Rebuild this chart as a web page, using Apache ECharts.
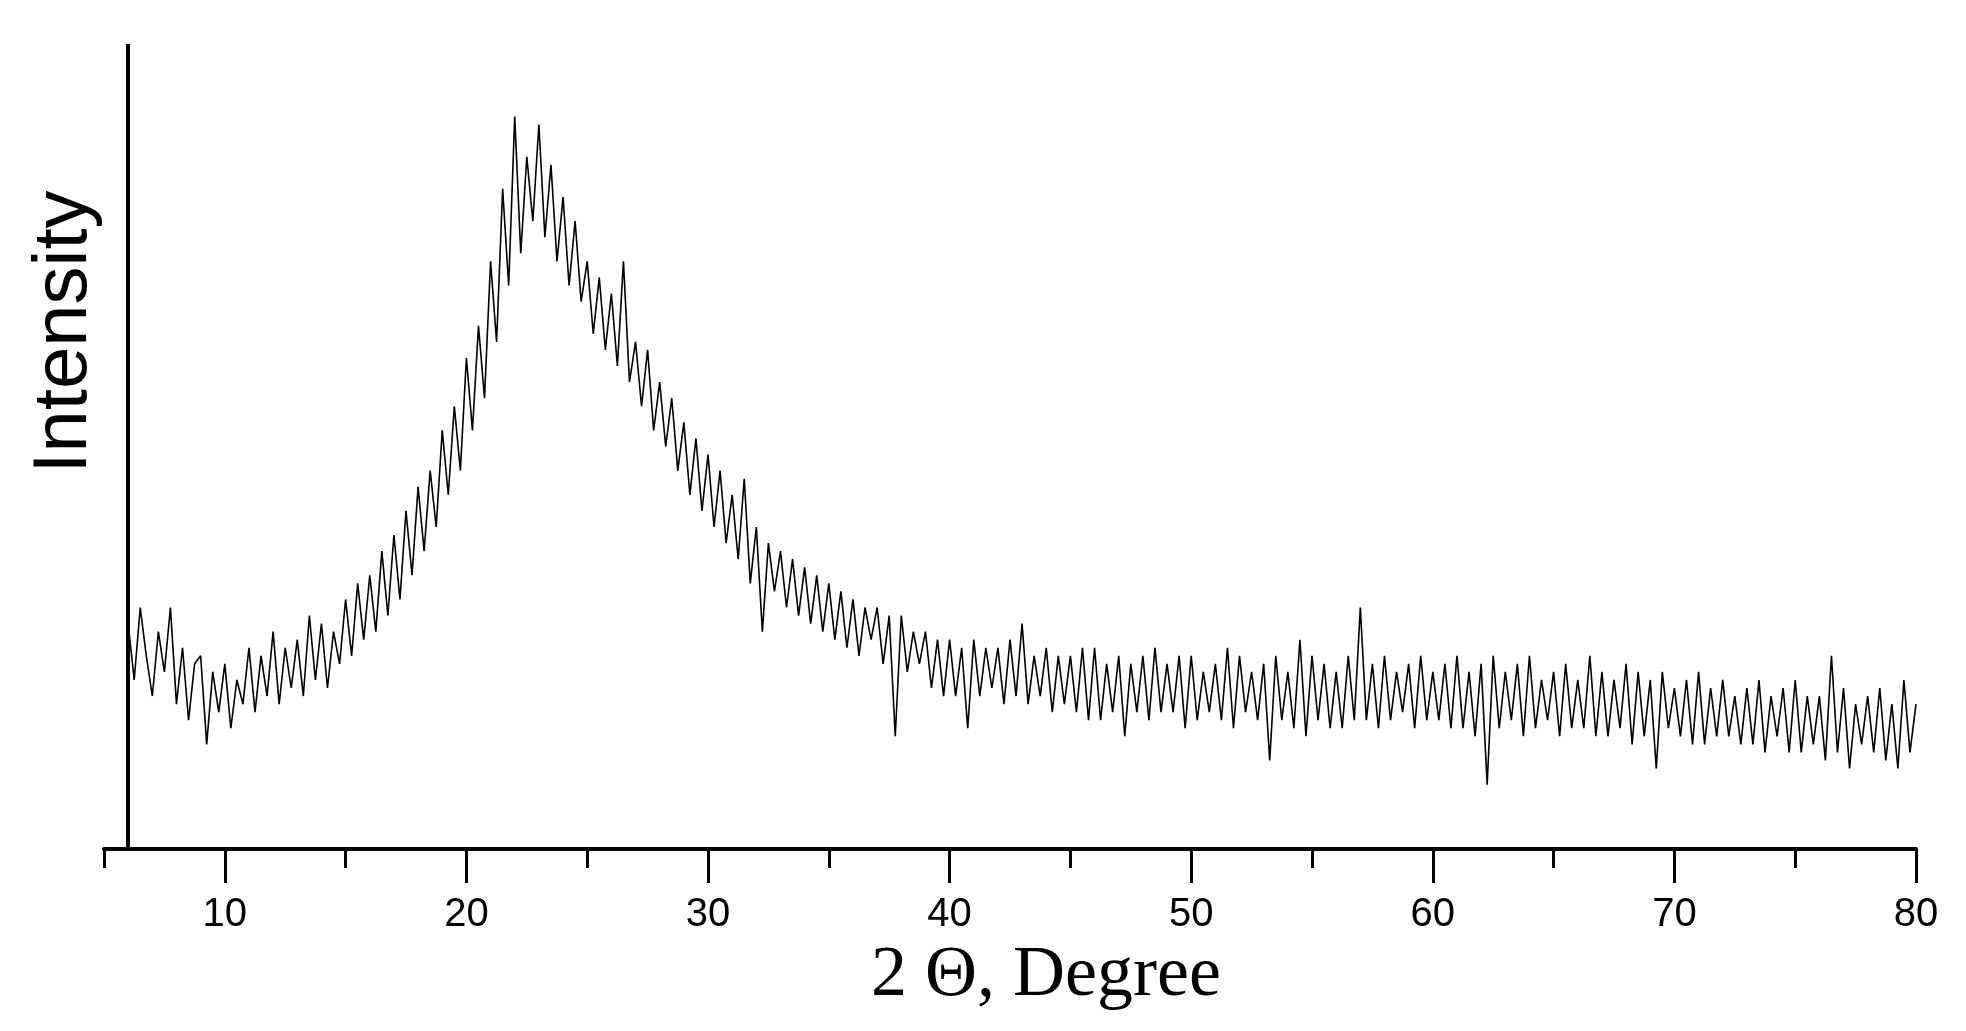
<!doctype html>
<html>
<head>
<script src="https://cdn.jsdelivr.net/npm/echarts@6/dist/echarts.min.js"></script>
<style>
  html, body { margin: 0; padding: 0; background: #fff; }
  #chart { width: 1966px; height: 1031px; }
</style>
</head>
<body>
<div id="chart"></div>
<script>
  // 2θ starts at 6 degrees, one reading every 0.25 degree
  var thetaStart = 6;
  var thetaStep = 0.25;
  var intensity = [
    28,21,30,24, 19,27,22,30, 18,25,16,23, 24,13,22,17, 23,15,21,18,
    25,17,24,19, 27,18,25,20, 26,19,29,21, 28,20,27,23, 31,24,33,26,
    34,27,37,29, 39,31,42,34, 45,37,47,40, 52,44,55,47, 61,52,65,56,
    73,63,82,70, 91,74,86,78, 90,76,85,73, 81,70,78,68, 73,64,71,62,
    69,60,73,58, 63,55,62,52, 58,50,56,47, 53,44,51,42, 49,40,47,38,
    44,36,46,33, 40,27,38,32, 37,30,36,29, 35,28,34,27, 33,26,32,25,
    31,24,30,26, 30,23,29,14, 29,22,27,23, 27,20,26,19, 26,19,25,15,
    26,19,25,20, 25,18,26,19, 28,18,24,19, 25,17,24,18, 24,17,25,16,
    25,16,23,17, 24,14,23,17, 24,16,25,17, 23,17,24,15, 24,16,22,17,
    23,16,25,15, 24,17,22,16, 23,11,24,16, 22,15,26,14, 24,16,23,15,
    22,15,24,16, 30,16,23,15, 24,16,22,17, 23,15,24,16, 22,16,23,15,
    24,15,22,14, 23,8,24,15, 22,16,23,14, 24,15,21,16, 22,14,23,15,
    21,15,24,14, 22,14,21,15, 23,13,22,14, 21,10,22,15, 20,14,21,13,
    22,13,20,14, 21,14,19,13, 20,13,21,12, 19,14,20,12, 21,12,19,13,
    19,11,24,12, 20,10,18,13, 19,12,20,11, 18,10,21,12, 18
  ];

  var points = intensity.map(function (v, i) {
    return [thetaStart + i * thetaStep, v];
  });

  var chart = echarts.init(document.getElementById('chart'));

  chart.setOption({
    animation: false,
    grid: [
      { left: 104, right: 50, top: 44, bottom: 182 },
      { left: 224.8, right: 50, top: 44, bottom: 182 }
    ],
    xAxis: [
      {
        type: 'value', gridIndex: 0, min: 5, max: 80, interval: 5,
        axisLine: { lineStyle: { color: '#000', width: 4 } },
        axisTick: { length: 19, lineStyle: { color: '#000', width: 3 } },
        axisLabel: { show: false },
        splitLine: { show: false }
      },
      {
        type: 'value', gridIndex: 1, min: 10, max: 80, interval: 10,
        axisLine: { show: false },
        axisTick: { length: 34, lineStyle: { color: '#000', width: 3 } },
        axisLabel: { color: '#000', fontSize: 40, fontFamily: 'Liberation Sans', margin: 46 },
        splitLine: { show: false }
      }
    ],
    yAxis: [
      { type: 'value', gridIndex: 0, min: 0, max: 100, show: false },
      { type: 'value', gridIndex: 1, min: 0, max: 100, show: false }
    ],
    series: [{
      type: 'line',
      xAxisIndex: 0,
      yAxisIndex: 0,
      data: points,
      showSymbol: false,
      lineStyle: { color: '#000', width: 1.6 },
      markLine: {
        silent: true,
        symbol: 'none',
        label: { show: false },
        lineStyle: { color: '#000', width: 4, type: 'solid' },
        data: [{ xAxis: 6 }]
      }
    }],
    graphic: [
      {
        type: 'text', x: 65, y: 332, rotation: Math.PI / 2, originX: 0, originY: 0,
        style: {
          text: 'Intensity', fill: '#000', fontSize: 76, fontFamily: 'Liberation Sans',
          align: 'center', verticalAlign: 'middle'
        }
      },
      {
        type: 'text', x: 1046, y: 976,
        style: {
          text: '2 Θ, Degree', fill: '#000', fontSize: 72, fontFamily: 'Liberation Serif',
          align: 'center', verticalAlign: 'middle'
        }
      }
    ]
  });
</script>
</body>
</html>
